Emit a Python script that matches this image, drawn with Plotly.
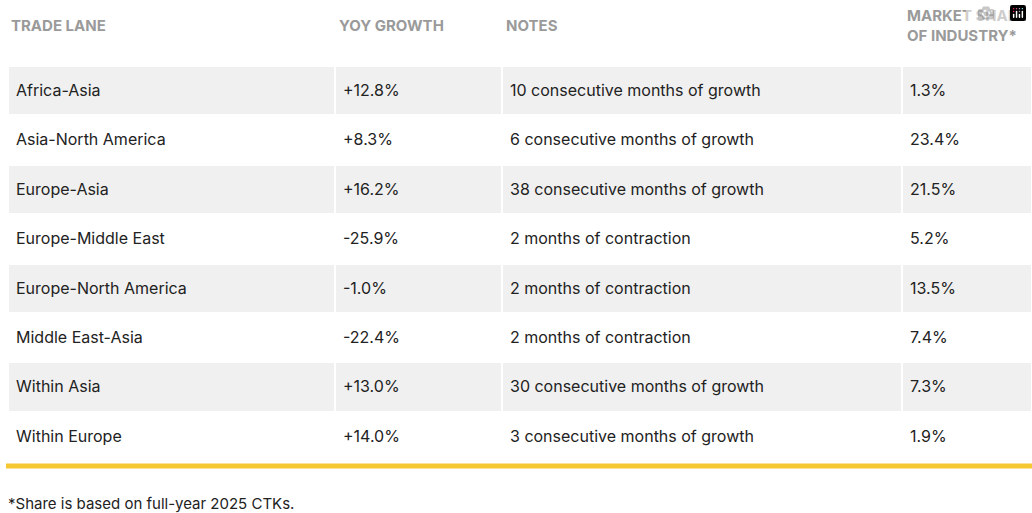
import plotly.graph_objects as go

lanes = ["Africa-Asia", "Asia-North America", "Europe-Asia", "Europe-Middle East",
         "Europe-North America", "Middle East-Asia", "Within Asia", "Within Europe"]
growth = ["+12.8%", "+8.3%", "+16.2%", "-25.9%", "-1.0%", "-22.4%", "+13.0%", "+14.0%"]
notes = ["10 consecutive months of growth", "6 consecutive months of growth",
         "38 consecutive months of growth", "2 months of contraction",
         "2 months of contraction", "2 months of contraction",
         "30 consecutive months of growth", "3 consecutive months of growth"]
share = ["1.3%", "23.4%", "21.5%", "5.2%", "13.5%", "7.4%", "7.3%", "1.9%"]
headers = ["TRADE LANE", "YOY GROWTH", "NOTES", "MARKET SHARE<br>OF INDUSTRY*"]

W, H = 1032, 513
n = len(lanes)
fills = ["#f0f0f0" if i % 2 == 0 else "#ffffff" for i in range(n)]
cw = [327, 167, 400, 130]
empty = [[""] * n] * 4

fig = go.Figure()
# background fills
fig.add_trace(go.Table(
    domain=dict(x=[8 / W, 1], y=[1 - 462 / H, 1]),
    columnwidth=cw,
    header=dict(values=["", "", "", ""], fill_color="white", line=dict(color="white", width=0), height=66),
    cells=dict(values=empty, fill_color=[fills] * 4, line=dict(color="white", width=2), height=49.4),
))
# text layer, shifted down to centre text vertically
fig.add_trace(go.Table(
    domain=dict(x=[8 / W, 1], y=[1 - 472 / H, 1 - 10 / H]),
    columnwidth=cw,
    header=dict(values=["", "", "", ""], fill_color="rgba(0,0,0,0)", line=dict(width=0), height=66),
    cells=dict(values=[lanes, growth, notes, share],
               fill_color="rgba(0,0,0,0)", line=dict(width=0),
               align="left", height=49.4,
               font=dict(family="Inter", size=16, color="#222222")),
))
hx = [9, 337, 504, 905]
for x, t in zip(hx, headers):
    fig.add_annotation(text=t, xref="paper", yref="paper", x=x / W, y=1 - 25 / H,
                       xanchor="left", yanchor="middle", align="left", showarrow=False,
                       font=dict(family="Inter", size=15, color="#9a9a9a", weight="bold"))
fig.add_shape(type="line", xref="paper", yref="paper", x0=6 / W, x1=1,
              y0=1 - 466 / H, y1=1 - 466 / H, line=dict(color="#f5c832", width=5))
fig.add_annotation(text="*Share is based on full-year 2025 CTKs.", xref="paper", yref="paper",
                   x=6 / W, y=1 - 503 / H, xanchor="left", yanchor="middle", showarrow=False,
                   font=dict(family="Inter", size=15, color="#222222"))
fig.update_layout(width=W, height=H, margin=dict(l=0, r=0, t=0, b=0),
                  paper_bgcolor="white", plot_bgcolor="white")
fig.write_html("out.html", post_script="document.body.style.margin='0';document.body.style.overflow='hidden';")
